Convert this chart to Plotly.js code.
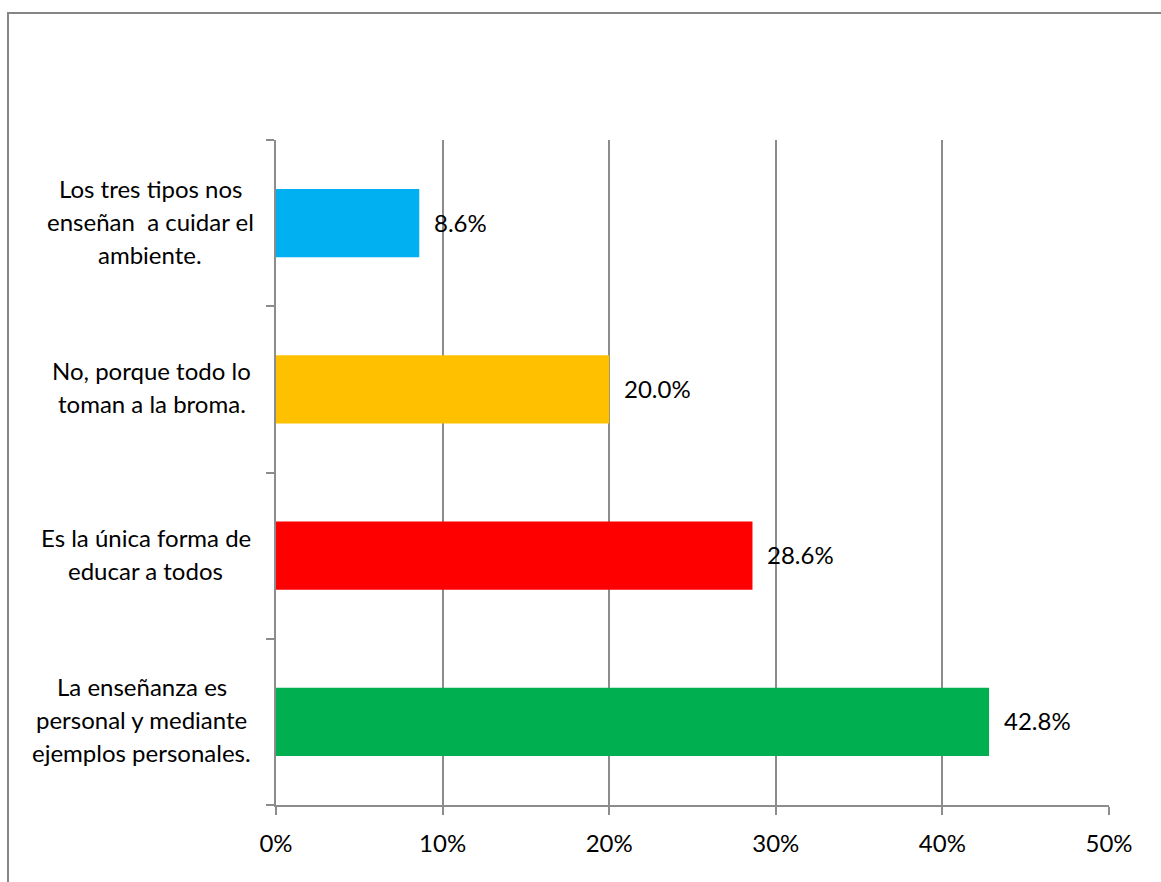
<!DOCTYPE html>
<html>
<head>
<meta charset="utf-8">
<script src="https://cdn.plot.ly/plotly-3.0.1.min.js"></script>
<style>
  html, body { margin: 0; padding: 0; background: #fff; overflow: hidden; }
  #chart { width: 1161px; height: 882px; }
  #frame { position: absolute; left: 7px; top: 12px; width: 1200px; height: 920px;
           border: 2px solid #868686; pointer-events: none; box-sizing: border-box; }
</style>
</head>
<body>
<div id="chart"></div>
<div id="frame"></div>
<script>
// Categories listed bottom-to-top (Plotly draws first category at the bottom)
const categories = [
  "La enseñanza es\npersonal y mediante\nejemplos personales.",
  "Es la única forma de\neducar a todos",
  "No, porque todo lo\ntoman a la broma.",
  "Los tres tipos nos\nenseñan  a cuidar el\nambiente."
];
const values = [42.8, 28.6, 20.0, 8.6];
const barColors = ["#00B050", "#FF0000", "#FFC000", "#00B0F0"];
const xTickVals = [0, 10, 20, 30, 40, 50];
const xTickText = ["0%", "10%", "20%", "30%", "40%", "50%"];

const FONT = "Lato, 'Open Sans', sans-serif";
const FS = 24;
const LINE_GAP = 33;
const ML = 276, MR = 52, MT = 140, MB = 77;
const plotW = 1161 - ML - MR;
const labelRight = 251; // px from left edge of page

const canvas = document.createElement("canvas");
const ctx = canvas.getContext("2d");
ctx.font = FS + "px Lato";

const annotations = [];
categories.forEach((cat, ci) => {
  const lines = cat.split("\n");
  const maxW = Math.max(...lines.map(l => ctx.measureText(l.replace(/  +/g, " ")).width));
  const cx = labelRight - maxW / 2;
  const xp = (cx - ML) / plotW;
  const n = lines.length;
  lines.forEach((ln, li) => {
    annotations.push({
      xref: "paper", yref: "y", x: xp, y: ci,
      xanchor: "center", yanchor: "middle",
      yshift: -((li - (n - 1) / 2) * LINE_GAP) + 2,
      text: ln, showarrow: false,
      font: { family: FONT, size: FS, color: "#000" }
    });
  });
});
values.forEach((v, i) => {
  annotations.push({
    xref: "x", yref: "y", x: v, y: i,
    xanchor: "left", yanchor: "middle", xshift: 13, yshift: 1,
    text: v.toFixed(1) + "%", showarrow: false,
    font: { family: FONT, size: FS, color: "#000" }
  });
});

const trace = {
  type: "bar", orientation: "h",
  x: values, y: categories,
  marker: { color: barColors, line: { width: 0 } },
  width: 0.41,
  hoverinfo: "none"
};

const layout = {
  width: 1161, height: 882,
  margin: { l: ML, r: MR, t: MT, b: MB, pad: 0 },
  paper_bgcolor: "#fff", plot_bgcolor: "#fff",
  showlegend: false,
  xaxis: {
    range: [0, 50], tickvals: xTickVals, ticktext: xTickText,
    showgrid: true, gridcolor: "#8c8c8c", gridwidth: 2,
    zeroline: false, showline: true, linecolor: "#8c8c8c", linewidth: 2,
    ticks: "outside", ticklen: 8, tickcolor: "#8c8c8c", tickwidth: 2,
    ticklabelstandoff: 8,
    tickfont: { family: FONT, size: FS, color: "#000" },
    fixedrange: true
  },
  yaxis: {
    type: "category", categoryorder: "array", categoryarray: categories,
    range: [-0.5, 3.5],
    showticklabels: false, showgrid: false, zeroline: false,
    showline: true, linecolor: "#8c8c8c", linewidth: 2,
    ticks: "outside", tickson: "boundaries", ticklen: 8, tickcolor: "#8c8c8c", tickwidth: 2,
    fixedrange: true
  },
  annotations: annotations,
  font: { family: FONT, size: FS, color: "#000" }
};

Plotly.newPlot("chart", [trace], layout, { displayModeBar: false, staticPlot: true });
</script>
</body>
</html>
